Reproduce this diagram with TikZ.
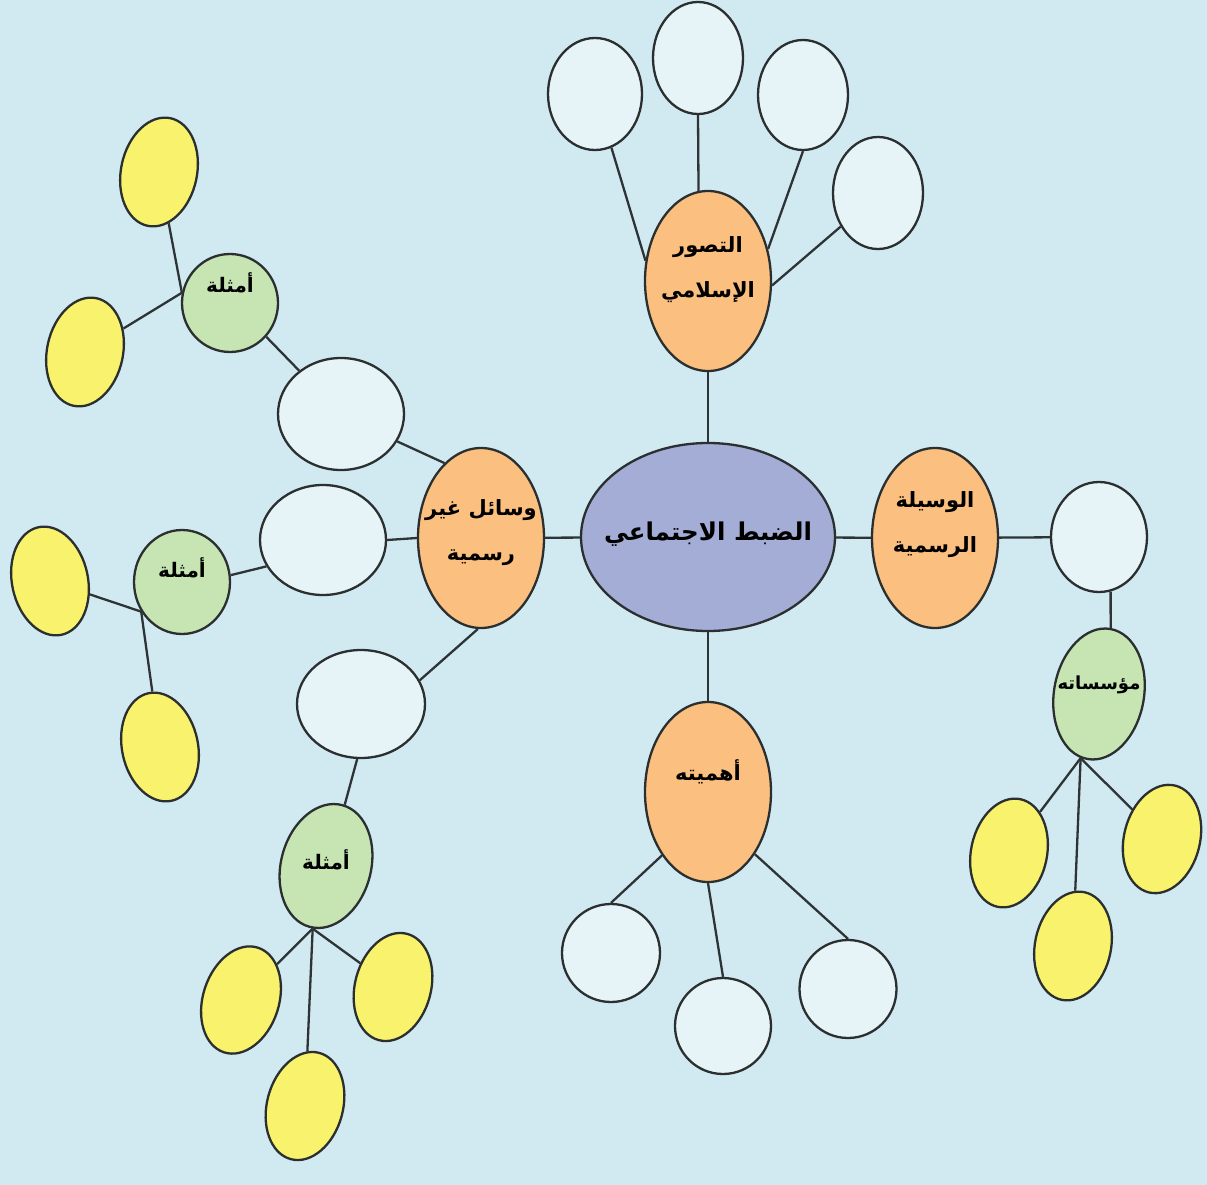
\documentclass[tikz,border=0pt]{standalone}
\usepackage{fontspec}
\usetikzlibrary{shapes.geometric}
\newfontfamily\arabicfont[Script=Arabic]{DejaVu Sans}
\TeXXeTstate=1
\definecolor{bgc}{HTML}{D1EAF2}
\definecolor{edgec}{HTML}{2B2F30}
\definecolor{linec}{HTML}{2E3436}
\definecolor{centc}{HTML}{A3ADD6}
\definecolor{orac}{HTML}{FBC07F}
\definecolor{whic}{HTML}{E6F3F7}
\definecolor{grec}{HTML}{C6E5B3}
\definecolor{yelc}{HTML}{F8F26C}
\begin{document}
\begin{tikzpicture}[x=1pt,y=-1pt,
  base/.style={ellipse, draw=edgec, line width=2.3pt, inner sep=0pt},
  central/.style={base, fill=centc, minimum width=254pt, minimum height=188pt},
  topic/.style={base, fill=orac, minimum width=126pt, minimum height=180pt},
  leaf/.style={base, fill=whic},
  sub/.style={base, fill=grec},
  ex/.style={base, fill=yelc, minimum width=76pt, minimum height=110pt},
  bigtxt/.style={font=\arabicfont\bfseries\fontsize{24.5}{30}\selectfont, align=center, text=black, inner sep=0pt},
  midtxt/.style={font=\arabicfont\bfseries\fontsize{21}{45}\selectfont, align=center, text=black, inner sep=0pt},
  smalltxt/.style={font=\arabicfont\bfseries\fontsize{20}{24}\selectfont, align=center, text=black, inner sep=0pt},
  tinytxt/.style={font=\arabicfont\bfseries\fontsize{18}{22}\selectfont, align=center, text=black, inner sep=0pt},
  link/.style={draw=linec, line width=2.3pt}]
\useasboundingbox (0,0) rectangle (1207,1185);
\fill[bgc] (0,0) rectangle (1207,1185);

% central and topics
\node[central, label={[bigtxt, name=cT, yshift=3pt]center:{\beginR الضبط الاجتماعي\endR}}] (c) at (708,537) {};
\node[topic, label={[midtxt, name=otT, yshift=11pt]center:{\beginR التصور\endR\\\beginR الإسلامي\endR}}] (ot) at (708,281) {};
\node[topic, label={[midtxt, name=orT, yshift=13pt]center:{\beginR الوسيلة\endR\\\beginR الرسمية\endR}}] (or) at (935,538) {};
\node[topic, label={[midtxt, name=olT, yshift=5pt]center:{\beginR وسائل غير\endR\\\beginR رسمية\endR}}] (ol) at (481,538) {};
\node[topic, label={[midtxt, name=obT, yshift=20pt]center:{\beginR أهميته\endR}}] (ob) at (708,792) {};

% white leaves
\node[leaf, minimum width=94pt, minimum height=112pt] (w1) at (595,94) {};
\node[leaf, minimum width=90pt, minimum height=112pt] (w2) at (698,58) {};
\node[leaf, minimum width=90pt, minimum height=110pt] (w3) at (803,95) {};
\node[leaf, minimum width=90pt, minimum height=112pt] (w4) at (878,193) {};
\node[leaf, minimum width=96pt, minimum height=110pt] (wr) at (1099,537) {};
\node[leaf, minimum width=126pt, minimum height=112pt] (wtl) at (341,414) {};
\node[leaf, minimum width=126pt, minimum height=110pt] (wml) at (323,540) {};
\node[leaf, minimum width=128pt, minimum height=108pt] (wll) at (361,704) {};
\node[leaf, minimum width=98pt, minimum height=98pt] (wb1) at (611,953) {};
\node[leaf, minimum width=96pt, minimum height=96pt] (wb2) at (723,1026) {};
\node[leaf, minimum width=97pt, minimum height=98pt] (wb3) at (848,989) {};

% green sub nodes
\node[sub, minimum width=96pt, minimum height=98pt, label={[smalltxt, name=gtlT, yshift=20pt]center:{\beginR أمثلة\endR}}] (gtl) at (230,303) {};
\node[sub, minimum width=96pt, minimum height=104pt, label={[smalltxt, name=gmlT, yshift=14pt]center:{\beginR أمثلة\endR}}] (gml) at (182,582) {};
\node[sub, minimum width=90pt, minimum height=126pt, rotate=-15, label={[smalltxt, name=gbT, yshift=6pt]center:{\beginR أمثلة\endR}}] (gb) at (326,866) {};
\node[sub, minimum width=90pt, minimum height=132pt, rotate=-10, label={[tinytxt, name=grT, yshift=9pt]center:{\beginR مؤسساته\endR}}] (gr) at (1099,694) {};

% yellow examples
\node[ex, rotate=-12] (y1) at (159,172) {};
\node[ex, rotate=-12] (y2) at (85,352) {};
\node[ex, rotate=12] (y3) at (50,581) {};
\node[ex, rotate=12] (y4) at (160,747) {};
\node[ex, rotate=-18] (y5) at (241,1000) {};
\node[ex, rotate=-15] (y6) at (393,987) {};
\node[ex, rotate=-15] (y7) at (305,1106) {};
\node[ex, rotate=-12] (y8) at (1009,853) {};
\node[ex, rotate=-14] (y9) at (1162,839) {};
\node[ex, rotate=-12] (y10) at (1073,946) {};

% connectors
\path[link] (c) -- (ot);
\path[link] (c) -- (or);
\path[link] (c) -- (ol);
\path[link] (c) -- (ob);
\path[link] (w1.-73) -- (ot.162);
\path[link] (w2.south) -- (ot.96);
\path[link] (w3.south) -- (ot.28);
\path[link] (w4.222) -- (ot.-4);
\path[link] (or) -- (wr);
\path[link] (wr.-78) -- (gr.north);
\path[link] (gr.-96) -- (y8);
\path[link] (gr.-96) -- (y9);
\path[link] (gr.-96) -- (y10);
\path[link] (ob.234) -- (wb1.north);
\path[link] (ob.south) -- (wb2.north);
\path[link] (ob.-53) -- (wb3.north);
\path[link] (wml.east) -- (ol.west);
\path[link] (wtl.-26) -- (ol.116);
\path[link] (wll.22) -- (ol.-92);
\path[link] (wtl.134) -- (gtl.-43);
\path[link] (gtl.168) -- (y1);
\path[link] (gtl.168) -- (y2);
\path[link] (wml.205) -- (gml.8);
\path[link] (gml.216) -- (y3);
\path[link] (gml.216) -- (y4);
\path[link] (wll.-94) -- (gb.88);
\path[link] (gb.-87) -- (y5);
\path[link] (gb.-87) -- (y6);
\path[link] (gb.-87) -- (y7);
\end{tikzpicture}
\end{document}
